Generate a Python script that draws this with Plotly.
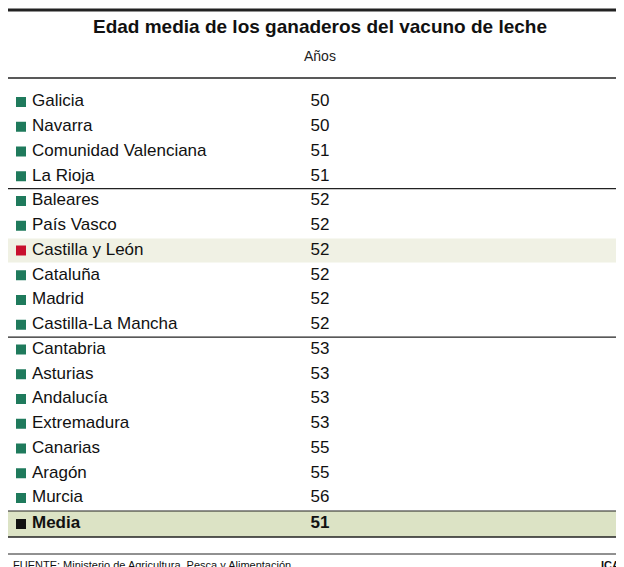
import plotly.graph_objects as go

regions = ["Galicia", "Navarra", "Comunidad Valenciana", "La Rioja", "Baleares",
           "País Vasco", "Castilla y León", "Cataluña", "Madrid", "Castilla-La Mancha",
           "Cantabria", "Asturias", "Andalucía", "Extremadura", "Canarias", "Aragón",
           "Murcia", "Media"]
ages = [50, 50, 51, 51, 52, 52, 52, 52, 52, 52, 53, 53, 53, 53, 55, 55, 56, 51]

W, H = 624, 567
y0, step = 94, 24.75
rows = [y0 + i * step for i in range(len(regions))]
rows[-1] = 516

FONT = "Liberation Sans Narrow, Liberation Sans, Arial"
colors = []
for r in regions:
    if r == "Castilla y León":
        colors.append("#c8102e")
    elif r == "Media":
        colors.append("#111111")
    else:
        colors.append("#1f7a5c")

fig = go.Figure()

shapes = []
# highlight rows
cyl = rows[regions.index("Castilla y León")]
shapes.append(dict(type="rect", x0=0, x1=W, y0=cyl - 12, y1=cyl + 12,
                   fillcolor="#f0f1e4", line_width=0, layer="below"))
shapes.append(dict(type="rect", x0=0, x1=W, y0=rows[-1] - 13, y1=rows[-1] + 13,
                   fillcolor="#dce3c5", line_width=0, layer="below"))
# rules
for y, w in [(2, 3), (70, 1.5), ((rows[3] + rows[4]) / 2, 1.2),
             ((rows[9] + rows[10]) / 2, 1.2), (rows[-1] - 13, 1.2),
             (rows[-1] + 13, 1.5), (546, 1)]:
    shapes.append(dict(type="line", x0=0, x1=W, y0=y, y1=y,
                       line=dict(color="#222", width=w)))

fig.add_trace(go.Scatter(x=[13] * len(regions), y=rows, mode="markers",
                         marker=dict(symbol="square", size=10, color=colors),
                         hoverinfo="skip", cliponaxis=False))
names = [r if r != "Media" else "<b>Media</b>" for r in regions]
vals = [str(a) for a in ages[:-1]] + ["<b>%d</b>" % ages[-1]]
fig.add_trace(go.Scatter(x=[24] * len(regions), y=rows, mode="text", text=names,
                         textposition="middle right", cliponaxis=False,
                         textfont=dict(family=FONT, size=17, color="#111")))
fig.add_trace(go.Scatter(x=[312] * len(regions), y=rows, mode="text", text=vals,
                         textposition="middle center", cliponaxis=False,
                         textfont=dict(family=FONT, size=17, color="#111")))

ann = [
    dict(x=W / 2, y=18, text="<b>Edad media de los ganaderos del vacuno de leche</b>",
         font=dict(family=FONT, size=19, color="#111")),
    dict(x=312, y=48, text="Años", font=dict(family=FONT, size=14, color="#222")),
    dict(x=3, y=557, text="FUENTE: Ministerio de Agricultura, Pesca y Alimentación",
         xanchor="left", font=dict(family=FONT, size=11, color="#111")),
    dict(x=621, y=557, text="<b>ICAL</b>", xanchor="right",
         font=dict(family=FONT, size=11, color="#111")),
]
for a in ann:
    a.update(xref="x", yref="y", showarrow=False)

fig.update_layout(
    width=W, height=H, margin=dict(l=0, r=0, t=0, b=0, pad=0, autoexpand=False),
    paper_bgcolor="white", plot_bgcolor="white", showlegend=False,
    xaxis=dict(range=[0, W], visible=False, fixedrange=True),
    yaxis=dict(range=[H, 0], visible=False, fixedrange=True),
    shapes=shapes, annotations=ann,
)
fig.write_html("out.html")
